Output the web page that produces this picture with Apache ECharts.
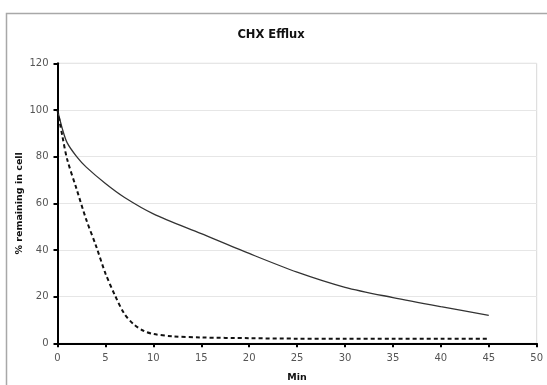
<!DOCTYPE html>
<html lang="en">
<head>
  <meta charset="UTF-8">
  <title>CHX Efflux</title>
  <style>
    html, body { margin: 0; padding: 0; background: #fff; }
    #chart { width: 547px; height: 385px; }
  </style>
</head>
<body>
  <div id="chart"></div>
  <script src="https://cdn.jsdelivr.net/npm/echarts@6/dist/echarts.min.js"></script>
  <script>
    const solidMin = [0, 0.5, 1, 2, 3, 5, 7, 10, 15, 20, 25, 30, 35, 40, 45];
    const solidPct = [100, 92, 86, 80, 75.5, 68.5, 62.5, 55.5, 47, 38.5, 30.5, 24, 19.6, 15.7, 12];
    const dashMin = [0, 0.5, 1, 2, 3, 4, 5, 6, 7, 8, 9, 10, 12, 15, 20, 25, 30, 35, 40, 45];
    const dashPct = [100, 89, 79, 66, 53, 42, 30, 20.5, 12.5, 8, 5.3, 4, 3, 2.5, 2.2, 2, 2, 2, 2, 2];

    const font = 'Verdana, "DejaVu Sans", sans-serif';
    const chart = echarts.init(document.getElementById('chart'));
    chart.setOption({
      animation: false,
      title: {
        text: 'CHX Efflux',
        left: 266, top: 24, textAlign: 'center',
        textStyle: { fontFamily: font, fontSize: 11.5, fontWeight: 'bold', color: '#111' }
      },
      graphic: [{
        type: 'rect', z: -1,
        shape: { x: 6.5, y: 13.5, width: 600, height: 400 },
        style: { fill: '#fff', stroke: '#a8a8a8', lineWidth: 1.5 }
      }],
      grid: {
        left: 57.5, right: 10.3, top: 63.3, bottom: 41.7,
        outerBoundsMode: 'none', containLabel: false,
        show: true, borderColor: '#d8d8d8', borderWidth: 1
      },
      xAxis: {
        type: 'value', min: 0, max: 50, interval: 5,
        name: 'Min', nameLocation: 'middle', nameGap: 29,
        nameTextStyle: { fontFamily: font, fontSize: 9.5, fontWeight: 'bold', color: '#111' },
        axisLine: { onZero: false, lineStyle: { color: '#000', width: 2 } },
        axisTick: { length: 4, lineStyle: { color: '#000', width: 2 } },
        axisLabel: { fontFamily: font, fontSize: 10, color: '#555', margin: 10 },
        splitLine: { show: false }
      },
      yAxis: {
        type: 'value', min: 0, max: 120, interval: 20,
        name: '% remaining in cell', nameLocation: 'middle', nameGap: 33,
        nameMoveOverlap: false,
        nameTextStyle: { fontFamily: font, fontSize: 9.5, fontWeight: 'bold', color: '#111' },
        axisLine: { show: true, lineStyle: { color: '#000', width: 2 } },
        axisTick: { show: true, length: 4, lineStyle: { color: '#000', width: 2 } },
        axisLabel: { fontFamily: font, fontSize: 10, color: '#555', margin: 9 },
        splitLine: { lineStyle: { color: '#e6e6e6', width: 1 } }
      },
      series: [
        {
          type: 'line', smooth: 0.3, symbol: 'none',
          data: solidMin.map((x, i) => [x, solidPct[i]]),
          lineStyle: { color: '#333', width: 1.3 }
        },
        {
          type: 'line', smooth: 0.3, symbol: 'none',
          data: dashMin.map((x, i) => [x, dashPct[i]]),
          lineStyle: { color: '#111', width: 2, type: [4, 3] }
        }
      ]
    });
  </script>
</body>
</html>
